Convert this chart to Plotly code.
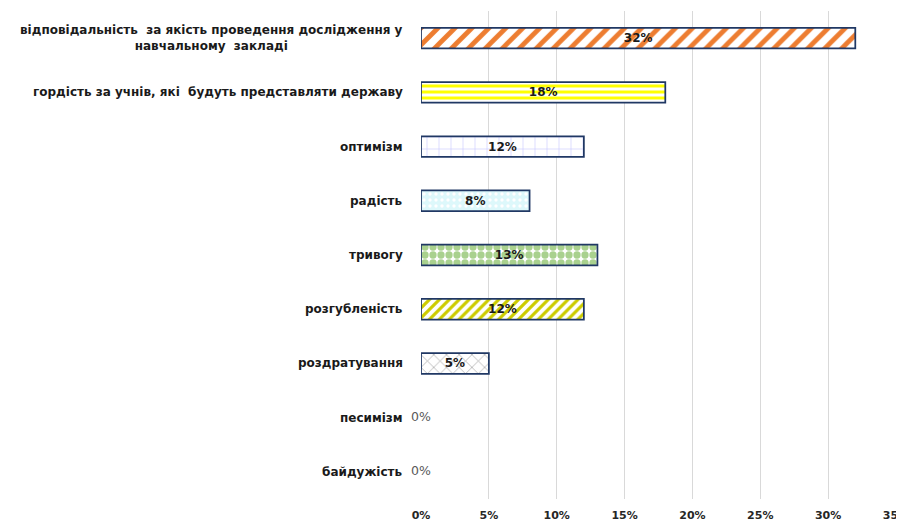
import plotly.graph_objects as go

categories = [
    "відповідальність  за якість проведення дослідження у<br>навчальному  закладі",
    "гордість за учнів, які  будуть представляти державу",
    "оптимізм",
    "радість",
    "тривогу",
    "розгубленість",
    "роздратування",
    "песимізм",
    "байдужість",
]
values = [0.32, 0.18, 0.12, 0.08, 0.13, 0.12, 0.05, 0.0, 0.0]
x_ticks = [0, 0.05, 0.10, 0.15, 0.20, 0.25, 0.30, 0.35]
x_tick_labels = ["0%", "5%", "10%", "15%", "20%", "25%", "30%", "35%"]

pat_shape = ["/", "-", "+", ".", ".", "/", "x", "", ""]
pat_fg = ["#ED7D31", "#FFFF00", "#C8C8FF", "#FFFFFF", "#A9D18E", "#CCCC00", "#A6A6A6", "#FFFFFF", "#FFFFFF"]
pat_bg = ["#FFFFFF", "#FFFFFF", "#FFFFFF", "#DDF8FB", "#FFFFFF", "#FFFFFF", "#FFFFFF", "#FFFFFF", "#FFFFFF"]
pat_size = [12, 6, 12, 6, 8, 7, 9, 8, 8]
pat_solid = [0.4, 0.5, 0.1, 0.25, 0.65, 0.45, 0.15, 0.3, 0.3]

nonzero_text = [f"{round(v*100)}%" if v > 0 else "" for v in values]
border_w = [1.75 if v > 0 else 0 for v in values]
zero_cats = [c for c, v in zip(categories, values) if v == 0]
zero_vals = [v for v in values if v == 0]

fig = go.Figure()
fig.add_trace(go.Bar(
    x=values, y=categories, orientation="h", width=0.38,
    marker=dict(
        color="#FFFFFF",
        line=dict(color="#203864", width=border_w),
        pattern=dict(shape=pat_shape, fgcolor=pat_fg, bgcolor=pat_bg,
                     size=pat_size, solidity=pat_solid, fillmode="replace"),
    ),
    text=nonzero_text, textposition="inside", insidetextanchor="middle",
    textfont=dict(family="DejaVu Sans", size=12, color="#1A1A1A", weight="bold"),
    showlegend=False, hoverinfo="skip",
))
fig.add_trace(go.Scatter(
    x=zero_vals, y=zero_cats, mode="text",
    text=[f"{round(v*100)}%" for v in zero_vals], textposition="middle center",
    textfont=dict(family="DejaVu Sans", size=12.5, color="#595959"),
    cliponaxis=False, showlegend=False, hoverinfo="skip",
))

for c in categories:
    fig.add_annotation(
        x=0, y=c, xref="x", yref="y", text=c, showarrow=False,
        xanchor="right", yanchor="middle", align="center", xshift=-16,
        font=dict(family="DejaVu Sans", size=12, color="#1A1A1A", weight="bold"),
    )

fig.update_layout(
    width=904, height=521,
    margin=dict(l=413, r=16, t=3, b=30),
    plot_bgcolor="white", paper_bgcolor="white",
    bargap=0.62,
    xaxis=dict(range=[0, 0.35], tickvals=x_ticks, ticktext=x_tick_labels,
               showgrid=True, gridcolor="#D9D9D9", gridwidth=1,
               zeroline=False, showline=False, ticks="", ticklabelstandoff=8,
               tickfont=dict(family="DejaVu Sans", size=11, color="#262626", weight="bold")),
    yaxis=dict(autorange="reversed", showticklabels=False, showgrid=False,
               zeroline=False, showline=False, ticks=""),
)

fig.write_html("out.html")
